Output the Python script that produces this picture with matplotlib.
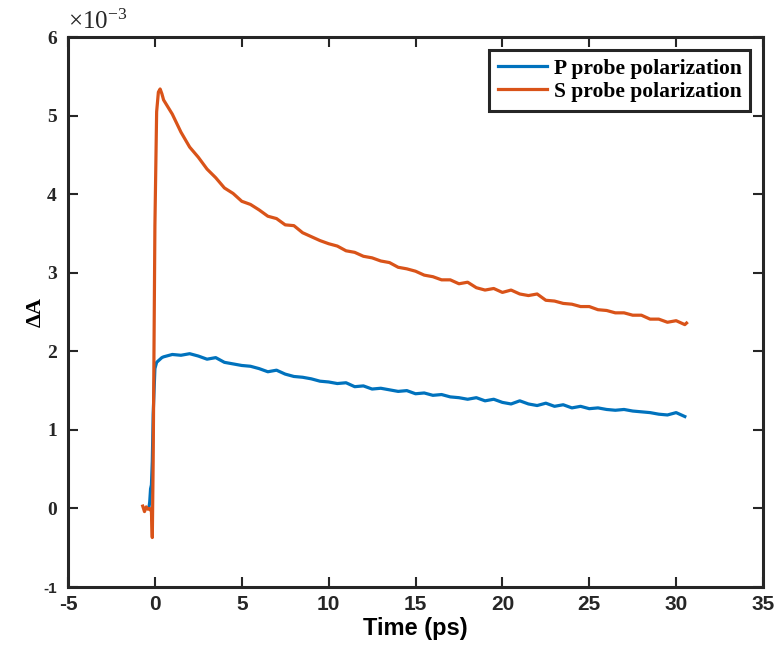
import matplotlib
matplotlib.use("Agg")
import matplotlib.pyplot as plt

# Time axis (ps) and signals (units of 1e-3)
t_p = [-0.35, -0.3, -0.25, -0.2, -0.15, -0.1, 0.0, 0.1, 0.2, 0.3, 0.4,
       0.5, 1.0, 1.5, 2.0, 2.5, 3.0, 3.5, 4.0, 4.5, 5.0, 5.5, 6.0, 6.5, 7.0, 7.5,
       8.0, 8.5, 9.0, 9.5, 10.0, 10.5, 11.0, 11.5, 12.0, 12.5, 13.0, 13.5, 14.0,
       14.5, 15.0, 15.5, 16.0, 16.5, 17.0, 17.5, 18.0, 18.5, 19.0, 19.5, 20.0,
       20.5, 21.0, 21.5, 22.0, 22.5, 23.0, 23.5, 24.0, 24.5, 25.0, 25.5, 26.0,
       26.5, 27.0, 27.5, 28.0, 28.5, 29.0, 29.5, 30.0, 30.5]
p_probe = [0.0, 0.08, 0.25, 0.3, 0.6, 1.2, 1.78, 1.86, 1.88, 1.90, 1.92,
           1.93, 1.96, 1.95, 1.97, 1.94, 1.90, 1.92, 1.86, 1.84, 1.82, 1.81,
           1.78, 1.74, 1.76, 1.71, 1.68, 1.67, 1.65, 1.62, 1.61, 1.59, 1.60,
           1.55, 1.56, 1.52, 1.53, 1.51, 1.49, 1.50, 1.46, 1.47, 1.44, 1.45,
           1.42, 1.41, 1.39, 1.41, 1.37, 1.39, 1.35, 1.33, 1.37, 1.33, 1.31,
           1.34, 1.30, 1.32, 1.28, 1.30, 1.27, 1.28, 1.26, 1.25, 1.26, 1.24,
           1.23, 1.22, 1.20, 1.19, 1.22, 1.17]

t_s = [-0.7, -0.6, -0.5, -0.4, -0.3, -0.2, -0.15, -0.1, 0.0, 0.1, 0.2, 0.3, 0.4,
       0.5, 1.0, 1.5, 2.0, 2.5, 3.0, 3.5, 4.0, 4.5, 5.0, 5.5, 6.0, 6.5, 7.0, 7.5,
       8.0, 8.5, 9.0, 9.5, 10.0, 10.5, 11.0, 11.5, 12.0, 12.5, 13.0, 13.5, 14.0,
       14.5, 15.0, 15.5, 16.0, 16.5, 17.0, 17.5, 18.0, 18.5, 19.0, 19.5, 20.0,
       20.5, 21.0, 21.5, 22.0, 22.5, 23.0, 23.5, 24.0, 24.5, 25.0, 25.5, 26.0,
       26.5, 27.0, 27.5, 28.0, 28.5, 29.0, 29.5, 30.0, 30.5, 30.6]
s_probe = [0.03, -0.04, 0.02, -0.01, 0.0, -0.04, -0.37, 0.6, 3.6, 5.05, 5.30,
           5.34, 5.28,
           5.20, 5.02, 4.79, 4.60, 4.47, 4.32, 4.21, 4.08, 4.01, 3.91, 3.87,
           3.80, 3.72, 3.69, 3.61, 3.60, 3.51, 3.46, 3.41, 3.37, 3.34, 3.28,
           3.26, 3.21, 3.19, 3.15, 3.13, 3.07, 3.05, 3.02, 2.97, 2.95, 2.91,
           2.91, 2.86, 2.88, 2.81, 2.78, 2.80, 2.75, 2.78, 2.73, 2.71, 2.73,
           2.65, 2.64, 2.61, 2.60, 2.57, 2.57, 2.53, 2.52, 2.49, 2.49, 2.46,
           2.46, 2.41, 2.41, 2.37, 2.39, 2.34, 2.36]

x_ticks = [-5, 0, 5, 10, 15, 20, 25, 30, 35]
y_ticks = [-1, 0, 1, 2, 3, 4, 5, 6]
labels = ["P probe polarization", "S probe polarization"]

fig = plt.figure(figsize=(7.74, 6.51), dpi=100)
ax = fig.add_axes([0.0879, 0.0983, 0.8979, 0.8447])

ax.plot(t_p, p_probe, color="#0072BD", lw=2.3, label=labels[0])
ax.plot(t_s, s_probe, color="#D95319", lw=2.3, label=labels[1])

ax.set_xlim(-5, 35)
ax.set_ylim(-1, 6)
ax.set_xticks(x_ticks)
ax.set_yticks(y_ticks)

narrow = ["Liberation Sans Narrow", "Liberation Sans", "DejaVu Sans"]
serif = ["Liberation Serif", "DejaVu Serif"]

ax.set_xticklabels([str(v) for v in x_ticks], family=narrow, fontweight="bold", fontsize=15)
ax.set_yticklabels([str(v) for v in y_ticks], family=serif, fontweight="bold", fontsize=14)
ax.get_yticklabels()[0].set_fontsize(11)
ax.get_yticklabels()[0].set_family(narrow)

ax.tick_params(direction="in", length=7, width=1.5, top=True, right=True,
               colors="#262626", pad=6)
ax.tick_params(axis="y", pad=8)
for sp in ax.spines.values():
    sp.set_linewidth(2.2)
    sp.set_color("#262626")

ax.set_xlabel("Time (ps)", family=narrow, fontweight="bold", fontsize=17, labelpad=2)
ax.set_ylabel("ΔA", family=serif, fontweight="bold", fontsize=16, labelpad=-2)

ax.text(0.0, 1.005, r"$\mathregular{\times10^{-3}}$", transform=ax.transAxes,
        family=serif, fontsize=18, ha="left", va="bottom", color="#262626")

leg = ax.legend(loc="upper right", prop={"family": serif, "weight": "bold", "size": 15.5},
                fancybox=False, framealpha=1, edgecolor="#262626",
                borderpad=0.4, labelspacing=0.15, handlelength=2.3,
                handletextpad=0.3, borderaxespad=0.6)
leg.get_frame().set_linewidth(2.2)

fig.savefig("out.png", dpi=100)
